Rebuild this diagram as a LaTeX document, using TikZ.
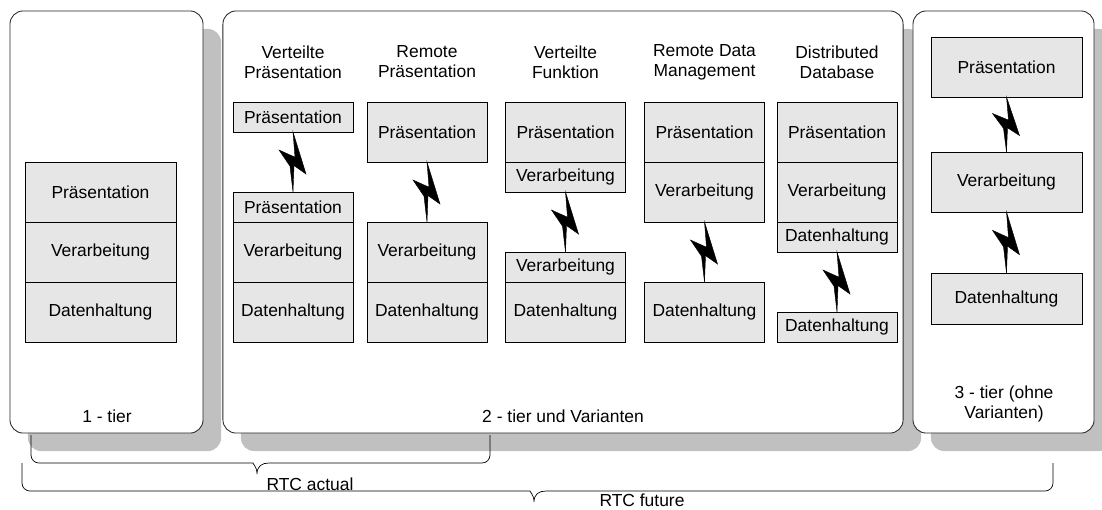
\documentclass[tikz,border=0pt]{standalone}
\usepackage{fontspec}
\setmainfont{Liberation Sans}
\usepackage{xcolor}
\usepackage{tikz}
\usetikzlibrary{positioning,calc,shadows}
\definecolor{Schichtgrau}{RGB}{230,230,230}
\definecolor{Schattengrau}{RGB}{192,192,192}
\tikzset{
    schicht/.style={draw=black, fill=Schichtgrau, line width=0.6pt, outer sep=0pt, inner sep=0pt, minimum width=3cm, font=\fontsize{12.4}{14.2}\selectfont},
    hoch/.style={minimum height=1.5cm},
    flach/.style={minimum height=0.75cm},
    breit/.style={minimum width=3.775cm},
    titel/.style={align=center, inner sep=0pt, font=\fontsize{12.4}{14.2}\selectfont},
    klammer/.style={draw=black, line width=0.5pt}
}
% Blitz zwischen zwei Knoten (oben -> unten)
\newcommand{\blitz}[2]{%
    \filldraw[black, line width=0.3pt] (#1.south)
        -- ($(#1.south)!0.7!(#2.north)+(13,0)$)
        -- ($(#1.south)!0.56!(#2.north)+(1,0)$)
        -- (#2.north)
        -- ($(#1.south)!0.57!(#2.north)+(-3,0)$)
        -- ($(#1.south)!0.3!(#2.north)+(-14,0)$)
        -- ($(#1.south)!0.42!(#2.north)+(2,0)$)
        -- cycle;}

\begin{document}
\begin{tikzpicture}[
        x=0.025cm, y=-0.025cm,
        % Rahmen mit Schatten
        panel/.style={
            draw=black!85,
            fill=white,
            rounded corners=0.33cm,
            line width=0.6pt,
            minimum height=10.55cm,
            general shadow={fill=Schattengrau, shadow xshift=0.45cm, shadow yshift=-0.45cm}
        }
    ]
        \useasboundingbox (0,0) rectangle (1102,509);

        % --- RAHMEN ---
        \node[panel, minimum width=4.825cm] (tier1) at (106.5,222) {};
        \node[panel, minimum width=17cm] (tier2) at (563,222) {};
        \node[panel, minimum width=4.525cm] (tier3) at (1003.5,222) {};

        \node[titel] (titel1) at (107,416) {1 - tier};
        \node[titel] (titel2) at (563,416) {2 - tier und Varianten};
        \node[titel] (titel3) at (1004,404) {3 - tier (ohne\\Varianten)};

        % --- 1 - tier ---
        \node[schicht, hoch, breit, anchor=north] (e1p) at (100.5,162) {Präsentation};
        \node[schicht, hoch, breit, below=0pt of e1p] (e1v) {Verarbeitung};
        \node[schicht, hoch, breit, below=0pt of e1v] (e1d) {Datenhaltung};

        % --- 2 - tier: Überschriften ---
        \node[titel] (kopf1) at (293,62) {Verteilte\\Präsentation};
        \node[titel] (kopf2) at (427,62) {Remote\\Präsentation};
        \node[titel] (kopf3) at (565.5,62) {Verteilte\\Funktion};
        \node[titel] (kopf4) at (704.5,62) {Remote Data\\Management};
        \node[titel] (kopf5) at (837,62) {Distributed\\Database};

        % Verteilte Präsentation
        \node[schicht, flach, anchor=north] (vp1) at (293,102) {Präsentation};
        \node[schicht, flach, anchor=north] (vp2) at (293,192) {Präsentation};
        \node[schicht, hoch, below=0pt of vp2] (vv) {Verarbeitung};
        \node[schicht, hoch, below=0pt of vv] (vd) {Datenhaltung};
        \blitz{vp1}{vp2}

        % Remote Präsentation
        \node[schicht, hoch, anchor=north] (rp) at (427,102) {Präsentation};
        \node[schicht, hoch, anchor=north] (rv) at (427,222) {Verarbeitung};
        \node[schicht, hoch, below=0pt of rv] (rd) {Datenhaltung};
        \blitz{rp}{rv}

        % Verteilte Funktion
        \node[schicht, hoch, anchor=north] (fp) at (565.5,102) {Präsentation};
        \node[schicht, flach, below=0pt of fp] (fv1) {Verarbeitung};
        \node[schicht, flach, anchor=north] (fv2) at (565.5,252) {Verarbeitung};
        \node[schicht, hoch, below=0pt of fv2] (fd) {Datenhaltung};
        \blitz{fv1}{fv2}

        % Remote Data Management
        \node[schicht, hoch, anchor=north] (mp) at (704.5,102) {Präsentation};
        \node[schicht, hoch, below=0pt of mp] (mv) {Verarbeitung};
        \node[schicht, hoch, anchor=north] (md) at (704.5,282) {Datenhaltung};
        \blitz{mv}{md}

        % Distributed Database
        \node[schicht, hoch, anchor=north] (dp) at (837,102) {Präsentation};
        \node[schicht, hoch, below=0pt of dp] (dv) {Verarbeitung};
        \node[schicht, flach, below=0pt of dv] (dd1) {Datenhaltung};
        \node[schicht, flach, anchor=north] (dd2) at (837,312) {Datenhaltung};
        \blitz{dd1}{dd2}

        % --- 3 - tier ---
        \node[schicht, hoch, breit, anchor=north] (tp) at (1006.5,37) {Präsentation};
        \node[schicht, hoch, breit, anchor=north] (tv) at (1006.5,152) {Verarbeitung};
        \node[schicht, breit, minimum height=1.275cm, anchor=north] (td) at (1006.5,273) {Datenhaltung};
        \blitz{tp}{tv}
        \blitz{tv}{td}

        % --- KLAMMERN ---
        \coordinate (aktuellL) at (31,435);
        \coordinate (aktuellR) at (490,435);
        \coordinate (aktuellS) at (257,474);
        \draw[klammer] (aktuellL) [rounded corners=0.2cm] |- ($(aktuellS)+(-12,-11)$) [sharp corners]
            .. controls ($(aktuellS)+(-5,-11)$) and ($(aktuellS)+(0,-8)$) .. (aktuellS)
            .. controls ($(aktuellS)+(0,-8)$) and ($(aktuellS)+(5,-11)$) .. ($(aktuellS)+(12,-11)$)
            [rounded corners=0.2cm] -| (aktuellR);
        \node[titel] (aktuell) at (310,484) {RTC actual};

        \coordinate (zukunftL) at (22,463);
        \coordinate (zukunftR) at (1053,463);
        \coordinate (zukunftS) at (534,502);
        \draw[klammer] (zukunftL) [rounded corners=0.2cm] |- ($(zukunftS)+(-12,-11)$) [sharp corners]
            .. controls ($(zukunftS)+(-5,-11)$) and ($(zukunftS)+(0,-8)$) .. (zukunftS)
            .. controls ($(zukunftS)+(0,-8)$) and ($(zukunftS)+(5,-11)$) .. ($(zukunftS)+(12,-11)$)
            [rounded corners=0.2cm] -| (zukunftR);
        \node[titel] (zukunft) at (642,500) {RTC future};
    \end{tikzpicture}
\end{document}
